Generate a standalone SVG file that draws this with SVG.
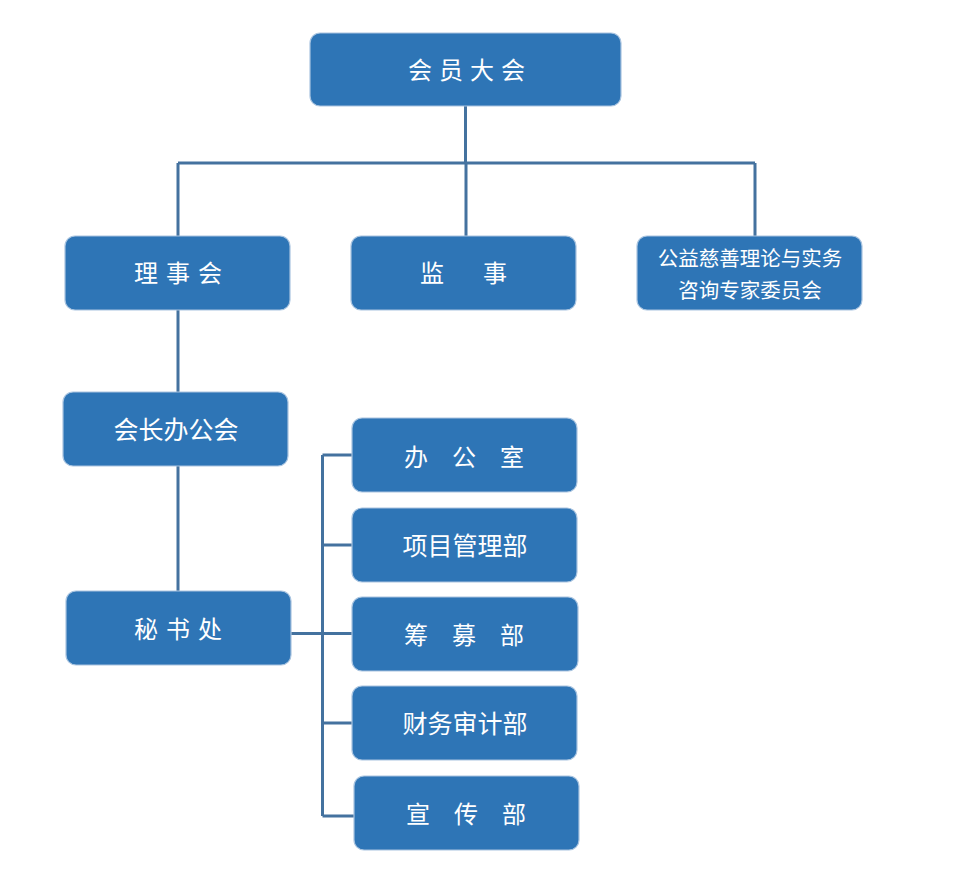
<svg xmlns="http://www.w3.org/2000/svg" width="967" height="879" viewBox="0 0 967 879">
<style>
.box{fill:#2e75b6;stroke:#a9c4e0;stroke-width:1.2}
.t{fill:#ffffff;font-family:"Noto Sans CJK SC","Noto Sans",sans-serif;font-size:24px;text-anchor:middle;dominant-baseline:central}
.s{font-size:20.5px}
.w{font-size:25px}
.c{fill:none;stroke:#44729f;stroke-width:3}
</style>
<rect width="967" height="879" fill="#ffffff"/>
<g id="connectors">
<path class="c" d="M465.5 106V163M178 163H755M178 163V236M466 163V236M755 163V236"/>
<path class="c" d="M178 310V392M178 466V591"/>
<path class="c" d="M291 633.5H352M322.5 455V816M322.5 455H352M322.5 545H352M322.5 723H352M322.5 816H354"/>
</g>
<g id="n1"><rect class="box" x="310" y="33" width="311" height="73" rx="10"/><text class="t" y="68"><tspan x="420">会</tspan><tspan x="451">员</tspan><tspan x="482">大</tspan><tspan x="513">会</tspan></text></g>
<g id="n2"><rect class="box" x="65" y="236" width="225" height="74" rx="10"/><text class="t" y="271"><tspan x="146">理</tspan><tspan x="178">事</tspan><tspan x="210">会</tspan></text></g>
<g id="n3"><rect class="box" x="351" y="236" width="225" height="74" rx="10"/><text class="t" y="271"><tspan x="432">监</tspan><tspan x="495">事</tspan></text></g>
<g id="n4"><rect class="box" x="637" y="236" width="225" height="74" rx="10"/><text class="t s" x="750" y="257">公益慈善理论与实务</text><text class="t s" x="750" y="289">咨询专家委员会</text></g>
<g id="n5"><rect class="box" x="63" y="392" width="225" height="74" rx="10"/><text class="t w" x="176" y="428">会长办公会</text></g>
<g id="n6"><rect class="box" x="66" y="591" width="225" height="74" rx="10"/><text class="t" y="627"><tspan x="146">秘</tspan><tspan x="178">书</tspan><tspan x="210">处</tspan></text></g>
<g id="n7"><rect class="box" x="352" y="418" width="225" height="74" rx="10"/><text class="t" y="455"><tspan x="416">办</tspan><tspan x="464">公</tspan><tspan x="512">室</tspan></text></g>
<g id="n8"><rect class="box" x="352" y="508" width="225" height="74" rx="10"/><text class="t w" x="465" y="544">项目管理部</text></g>
<g id="n9"><rect class="box" x="352" y="597" width="226" height="74" rx="10"/><text class="t" y="633"><tspan x="416">筹</tspan><tspan x="464">募</tspan><tspan x="512">部</tspan></text></g>
<g id="n10"><rect class="box" x="352" y="686" width="225" height="74" rx="10"/><text class="t w" x="465" y="722">财务审计部</text></g>
<g id="n11"><rect class="box" x="354" y="776" width="225" height="74" rx="10"/><text class="t" y="812"><tspan x="418">宣</tspan><tspan x="466">传</tspan><tspan x="514">部</tspan></text></g>
</svg>
